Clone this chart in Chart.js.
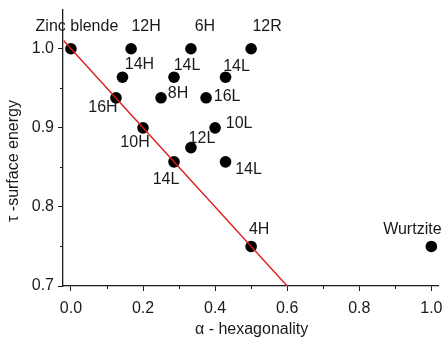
<!DOCTYPE html>
<html><head><meta charset="utf-8">
<script src="https://cdn.jsdelivr.net/npm/chart.js@4.4.1/dist/chart.umd.min.js"></script>
<style>html,body{margin:0;padding:0;background:#fff}#wrap{width:444px;height:344px;position:relative}</style>
</head><body><div id="wrap"><canvas id="c"></canvas></div>
<script>
// ---- data ----
const polytypes = ["Zinc blende","12H","6H","12R","14H","14L","14L","16H","8H","16L","10H","10L","12L","14L","14L","4H","Wurtzite"];
const alphaValues = [0, 0.167, 0.333, 0.5, 0.143, 0.286, 0.429, 0.125, 0.25, 0.375, 0.2, 0.4, 0.333, 0.286, 0.429, 0.5, 1.0];
const tauValues = [1.0, 1.0, 1.0, 1.0, 0.964, 0.964, 0.964, 0.938, 0.938, 0.938, 0.9, 0.9, 0.875, 0.857, 0.857, 0.75, 0.75];
const fitLineX = [-0.02, 0.6];
const fitLineY = [1.01, 0.7];
const xTickValues = [0, 0.2, 0.4, 0.6, 0.8, 1.0];
const xMinorTicks = [0.1, 0.3, 0.5, 0.7, 0.9];
const yTickValues = [0.7, 0.8, 0.9, 1.0];
const yMinorTicks = [0.75, 0.85, 0.95];

// label placement (pixel offsets of text centre from its point)
const labelOffsets = [[6,-22],[15,-22],[14,-22],[16,-22],[17,-13],[13,-12],[11,-11],[-13,9.5],[17,-4],[21,-1],[-8,15],[24,-4],[11,-9],[-8,18],[23,8],[8,-17],[-19,-17]];

const FONT = '"Liberation Sans", Arial, sans-serif';
const INK = '#1a1a1a';

const scatterData = alphaValues.map((a, i) => ({x: a, y: tauValues[i]}));
const lineData = fitLineX.map((x, i) => ({x: x, y: fitLineY[i]}));

const decor = {
  id: 'decor',
  afterDatasetsDraw(chart) {
    const ctx = chart.ctx, xs = chart.scales.x, ys = chart.scales.y;
    ctx.save();
    // minor ticks
    ctx.strokeStyle = INK; ctx.lineWidth = 1;
    ctx.beginPath();
    xMinorTicks.forEach(v => { const p = Math.round(xs.getPixelForValue(v)) + 0.5; ctx.moveTo(p, ys.bottom); ctx.lineTo(p, ys.bottom + 3); });
    yMinorTicks.forEach(v => { const p = Math.round(ys.getPixelForValue(v)) + 0.5; ctx.moveTo(xs.left, p); ctx.lineTo(xs.left - 3, p); });
    ctx.stroke();
    // point labels
    ctx.fillStyle = INK;
    ctx.font = '16px ' + FONT;
    ctx.textAlign = 'center'; ctx.textBaseline = 'middle';
    polytypes.forEach((t, i) => {
      const px = xs.getPixelForValue(alphaValues[i]), py = ys.getPixelForValue(tauValues[i]);
      ctx.fillText(t, px + labelOffsets[i][0], py + labelOffsets[i][1]);
    });
    // axis titles
    ctx.fillText('\u03b1 - hexagonality', (xs.left + xs.right) / 2 + 1, 330);
    ctx.translate(14, 161); ctx.rotate(-Math.PI / 2);
    ctx.fillText('\u03c4 -surface energy', 0, 0);
    ctx.restore();
  }
};

new Chart(document.getElementById('c'), {
  type: 'scatter',
  data: {
    datasets: [
      { type: 'line', data: lineData, borderColor: '#dd1c1c', borderWidth: 1.4, pointRadius: 0, fill: false, tension: 0 },
      { data: scatterData, backgroundColor: '#000', borderColor: '#000', pointRadius: 5.8, pointBorderWidth: 0 }
    ]
  },
  options: {
    responsive: true, maintainAspectRatio: false, animation: false,
    devicePixelRatio: 1,
    layout: { padding: { left: 0, right: 4, top: 10, bottom: 0 } },
    plugins: { legend: { display: false }, tooltip: { enabled: false } },
    scales: {
      x: {
        type: 'linear', min: -0.022, max: 1.019,
        afterBuildTicks: s => { s.ticks = xTickValues.map(v => ({value: v})); },
        afterFit: s => { s.height = 58; s.paddingLeft = 0; s.paddingRight = 0; },
        ticks: { callback: v => Number(v).toFixed(1), color: INK, font: { size: 16, family: FONT }, padding: 8, maxRotation: 0, autoSkip: false },
        grid: { drawOnChartArea: false, tickLength: 5, color: INK, tickColor: INK },
        border: { display: true, color: INK, width: 1.3 },
        title: { display: false }
      },
      y: {
        type: 'linear', min: 0.7, max: 1.049,
        afterBuildTicks: s => { s.ticks = yTickValues.map(v => ({value: v})); },
        afterFit: s => { s.width = 63; s.paddingTop = 0; s.paddingBottom = 0; },
        ticks: { callback: v => Number(v).toFixed(1), color: INK, font: { size: 16, family: FONT }, padding: 4, autoSkip: false },
        grid: { drawOnChartArea: false, tickLength: 5, color: INK, tickColor: INK },
        border: { display: true, color: INK, width: 1.3 },
        title: { display: false }
      }
    }
  },
  plugins: [decor]
});
</script>
</body></html>
